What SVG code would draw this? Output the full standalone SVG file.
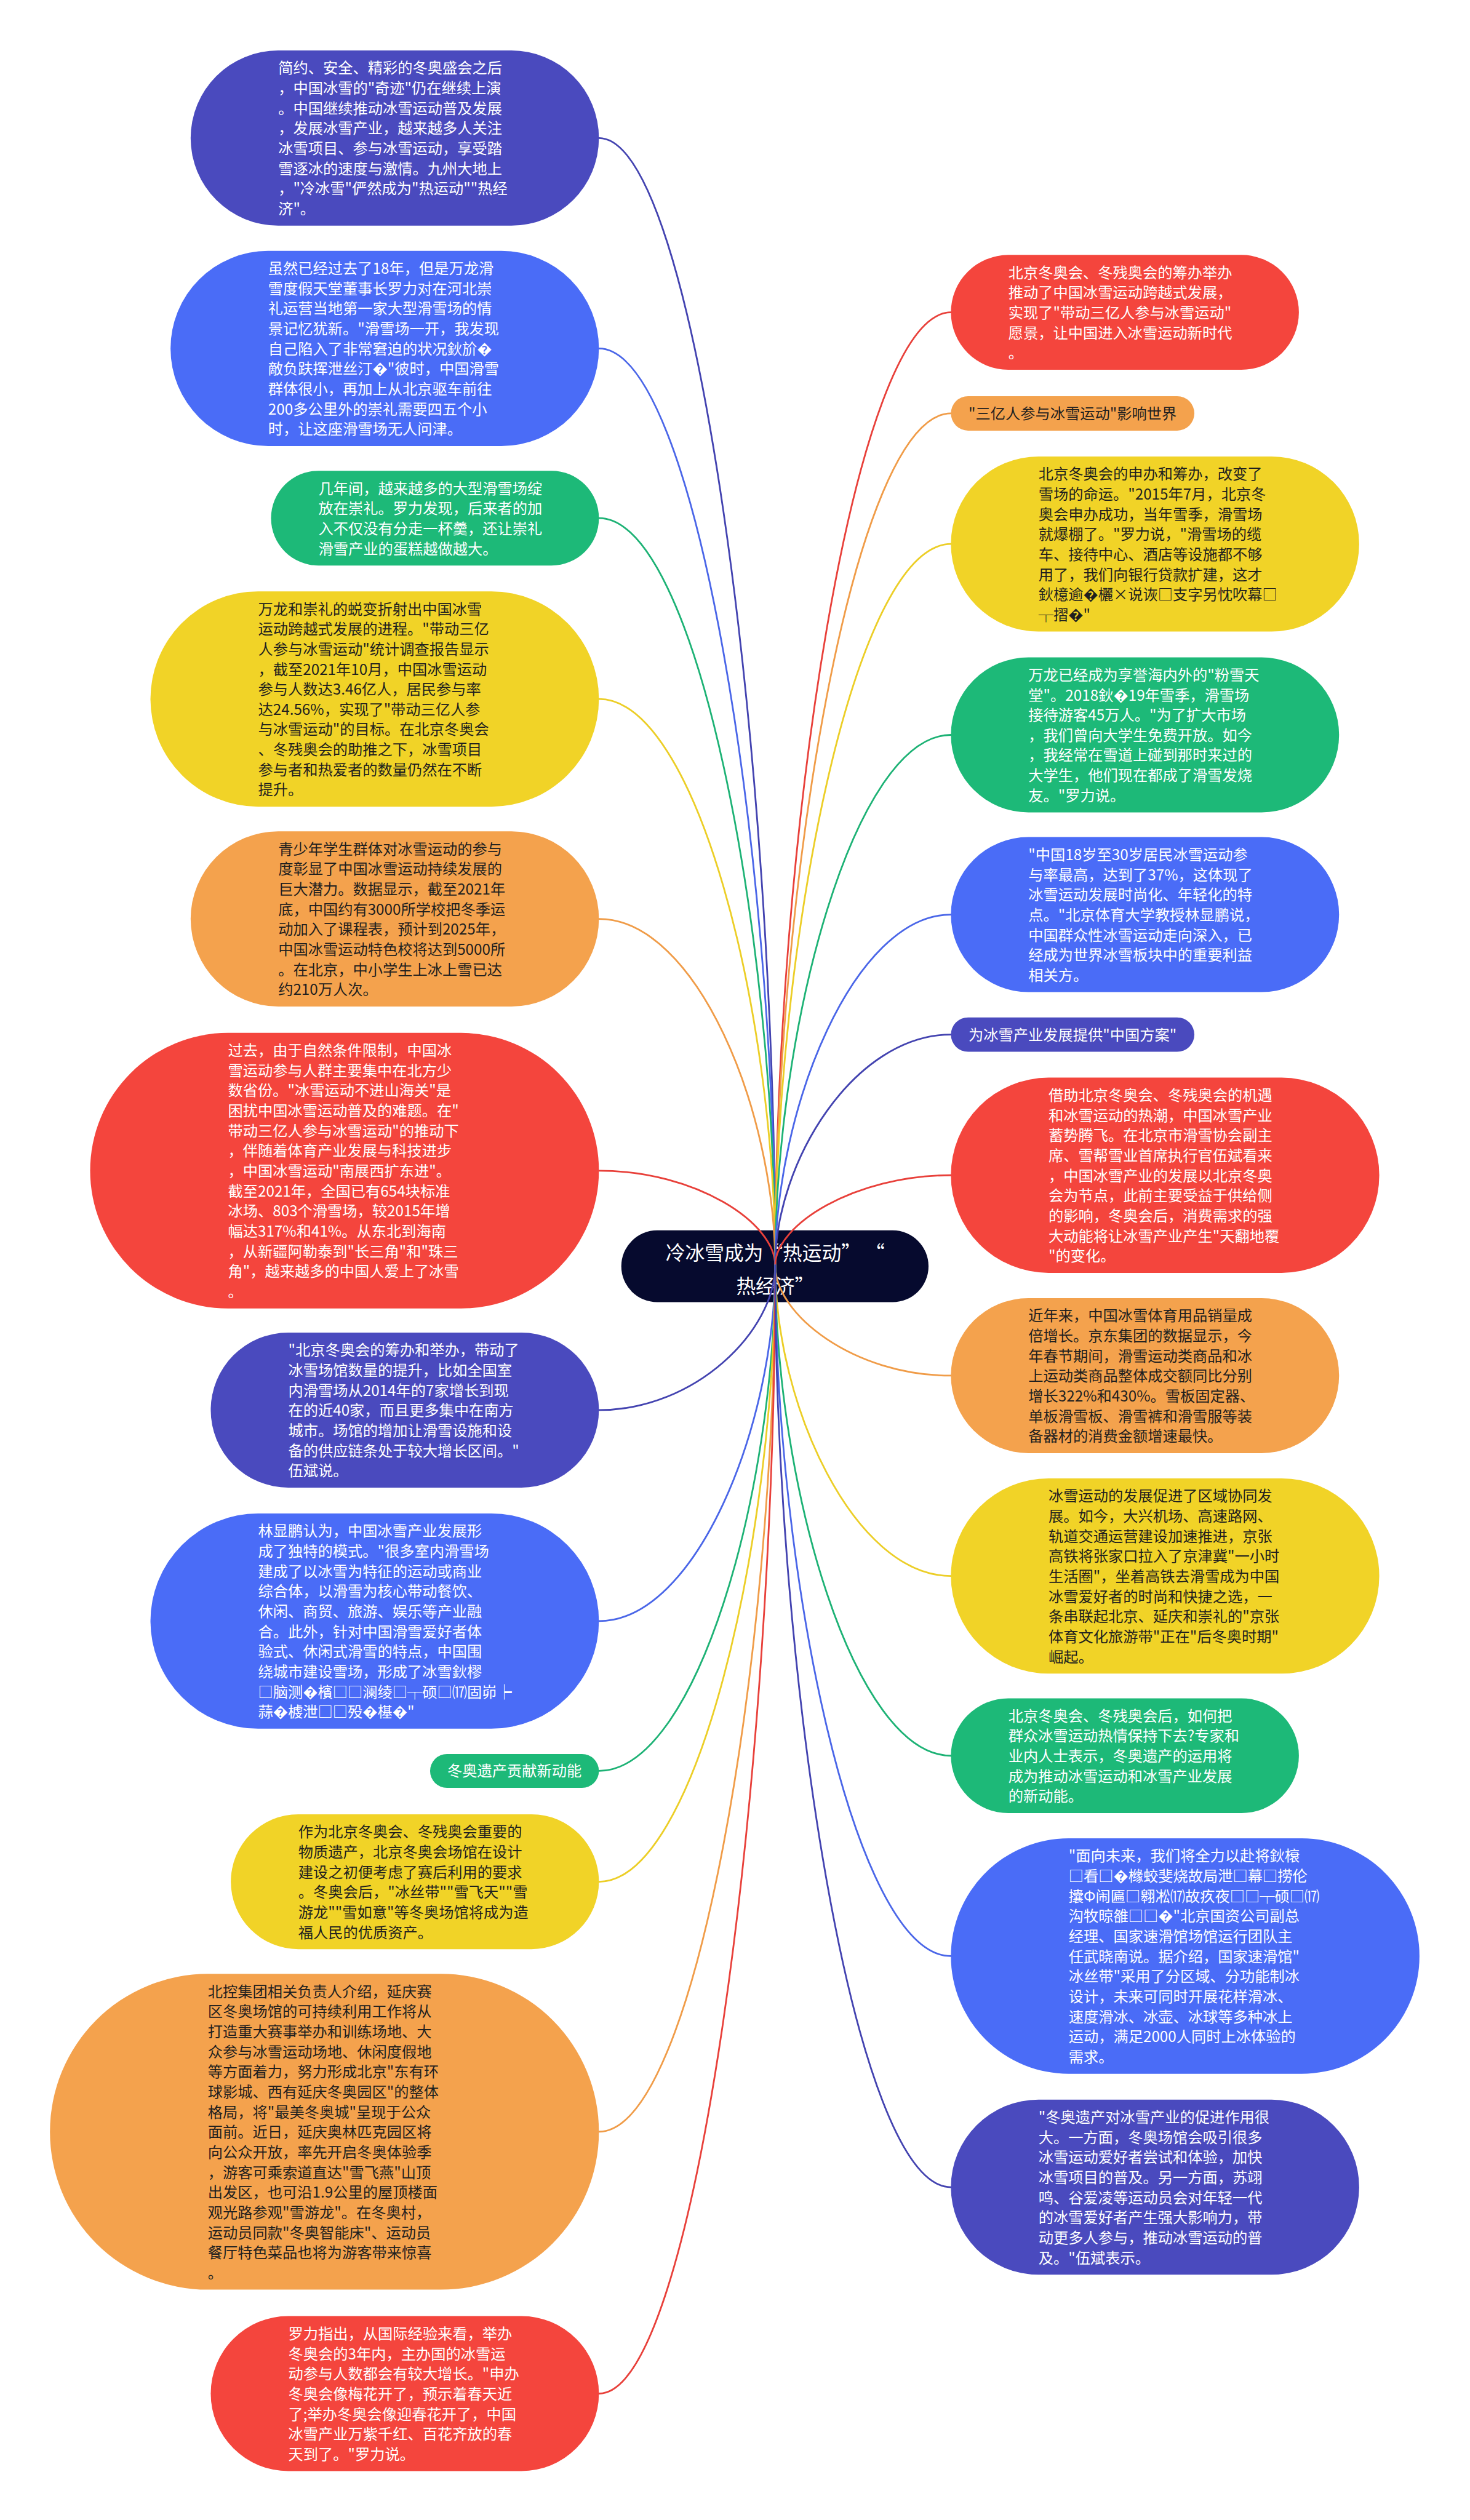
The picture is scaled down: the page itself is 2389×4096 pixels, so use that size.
<svg xmlns="http://www.w3.org/2000/svg" width="2389" height="4096" viewBox="0 0 2389 4096">
<style>
.t{font-family:"Noto Sans CJK SC","Noto Sans","DejaVu Sans",sans-serif;font-size:26px}
.w{fill:#ffffff}.d{fill:#1f1f1f}
.ctr{font-family:"Noto Sans CJK SC","Noto Sans","DejaVu Sans",sans-serif;font-size:34px;fill:#ffffff;text-anchor:middle}
.mid{text-anchor:middle}
.c{fill:none;stroke-width:3;stroke-linecap:round}
.indigo{fill:#4a4abe}.blue{fill:#4a6cf7}.green{fill:#1db978}.yellow{fill:#f1d327}.orange{fill:#f4a24d}.red{fill:#f4453d}
.si{stroke:#4343b0}.sb{stroke:#4a66e8}.sg{stroke:#1db275}.sy{stroke:#ecce27}.so{stroke:#f09c48}.sr{stroke:#e8403a}
</style>
<rect width="2389" height="4096" fill="#ffffff"/>
<g transform="scale(0.9332)">
<g id="n-center">
<rect x="1082" y="2143" width="535" height="125" rx="62.5" fill="#060a2e"/>
<text class="ctr"><tspan x="1350" y="2195">冷冰雪成为“热运动” “</tspan><tspan x="1350" y="2252">热经济”</tspan></text>
</g>
<g id="connectors">
<path class="c si" d="M1043 240.5C1212 240.5 1350 1320.4 1350 2204"/>
<path class="c sb" d="M1043 607C1212 607 1350 1485.4 1350 2204"/>
<path class="c sg" d="M1043 902.5C1212 902.5 1350 1618.3 1350 2204"/>
<path class="c sy" d="M1043 1217.5C1212 1217.5 1350 1760.1 1350 2204"/>
<path class="c so" d="M1043 1600.5C1212 1600.5 1350 1932.4 1350 2204"/>
<path class="c sr" d="M1043 2039C1212 2039 1350 2129.8 1350 2204"/>
<path class="c si" d="M1043 2456C1212 2456 1350 2317.4 1350 2204"/>
<path class="c sb" d="M1043 2823.5C1212 2823.5 1350 2482.8 1350 2204"/>
<path class="c sg" d="M1043 3084.5C1212 3084.5 1350 2600.2 1350 2204"/>
<path class="c sy" d="M1043 3277.5C1212 3277.5 1350 2687.1 1350 2204"/>
<path class="c so" d="M1043 3713C1212 3713 1350 2883 1350 2204"/>
<path class="c sr" d="M1043 4169C1212 4169 1350 3088.3 1350 2204"/>
<path class="c sr" d="M1656 544C1488 544 1350 1457 1350 2204"/>
<path class="c so" d="M1656 720C1488 720 1350 1536.2 1350 2204"/>
<path class="c sy" d="M1656 947.5C1488 947.5 1350 1638.6 1350 2204"/>
<path class="c sg" d="M1656 1280C1488 1280 1350 1788.2 1350 2204"/>
<path class="c sb" d="M1656 1593C1488 1593 1350 1929 1350 2204"/>
<path class="c si" d="M1656 1802C1488 1802 1350 2023.1 1350 2204"/>
<path class="c sr" d="M1656 2047C1488 2047 1350 2133.4 1350 2204"/>
<path class="c so" d="M1656 2396C1488 2396 1350 2290.4 1350 2204"/>
<path class="c sy" d="M1656 2745C1488 2745 1350 2447.4 1350 2204"/>
<path class="c sg" d="M1656 3058C1488 3058 1350 2588.3 1350 2204"/>
<path class="c sb" d="M1656 3407C1488 3407 1350 2745.4 1350 2204"/>
<path class="c si" d="M1656 3809.5C1488 3809.5 1350 2926.5 1350 2204"/>
</g>
<g id="n-l1">
<rect class="indigo" x="332" y="88" width="711" height="305" rx="152.5"/>
<text class="t w"><tspan x="484.5" y="128">简约、安全、精彩的冬奥盛会之后</tspan><tspan x="484.5" y="163">，中国冰雪的"奇迹"仍在继续上演</tspan><tspan x="484.5" y="198">。中国继续推动冰雪运动普及发展</tspan><tspan x="484.5" y="233">，发展冰雪产业，越来越多人关注</tspan><tspan x="484.5" y="268">冰雪项目、参与冰雪运动，享受踏</tspan><tspan x="484.5" y="303">雪逐冰的速度与激情。九州大地上</tspan><tspan x="484.5" y="338">，"冷冰雪"俨然成为"热运动""热经</tspan><tspan x="484.5" y="373">济"。</tspan></text>
</g>
<g id="n-l2">
<rect class="blue" x="297" y="437" width="746" height="340" rx="170"/>
<text class="t w"><tspan x="467" y="477">虽然已经过去了18年，但是万龙滑</tspan><tspan x="467" y="512">雪度假天堂董事长罗力对在河北崇</tspan><tspan x="467" y="547">礼运营当地第一家大型滑雪场的情</tspan><tspan x="467" y="582">景记忆犹新。"滑雪场一开，我发现</tspan><tspan x="467" y="617">自己陷入了非常窘迫的状况鈥斺�</tspan><tspan x="467" y="652">敵负趺挥泄丝汀�"彼时，中国滑雪</tspan><tspan x="467" y="687">群体很小，再加上从北京驱车前往</tspan><tspan x="467" y="722">200多公里外的崇礼需要四五个小</tspan><tspan x="467" y="757">时，让这座滑雪场无人问津。</tspan></text>
</g>
<g id="n-l3">
<rect class="green" x="472" y="820" width="571" height="165" rx="82.5"/>
<text class="t w"><tspan x="554.5" y="860">几年间，越来越多的大型滑雪场绽</tspan><tspan x="554.5" y="895">放在崇礼。罗力发现，后来者的加</tspan><tspan x="554.5" y="930">入不仅没有分走一杯羹，还让崇礼</tspan><tspan x="554.5" y="965">滑雪产业的蛋糕越做越大。</tspan></text>
</g>
<g id="n-l4">
<rect class="yellow" x="262" y="1030" width="781" height="375" rx="187.5"/>
<text class="t d"><tspan x="449.5" y="1070">万龙和崇礼的蜕变折射出中国冰雪</tspan><tspan x="449.5" y="1105">运动跨越式发展的进程。"带动三亿</tspan><tspan x="449.5" y="1140">人参与冰雪运动"统计调查报告显示</tspan><tspan x="449.5" y="1175">，截至2021年10月，中国冰雪运动</tspan><tspan x="449.5" y="1210">参与人数达3.46亿人，居民参与率</tspan><tspan x="449.5" y="1245">达24.56%，实现了"带动三亿人参</tspan><tspan x="449.5" y="1280">与冰雪运动"的目标。在北京冬奥会</tspan><tspan x="449.5" y="1315">、冬残奥会的助推之下，冰雪项目</tspan><tspan x="449.5" y="1350">参与者和热爱者的数量仍然在不断</tspan><tspan x="449.5" y="1385">提升。</tspan></text>
</g>
<g id="n-l5">
<rect class="orange" x="332" y="1448" width="711" height="305" rx="152.5"/>
<text class="t d"><tspan x="484.5" y="1488">青少年学生群体对冰雪运动的参与</tspan><tspan x="484.5" y="1523">度彰显了中国冰雪运动持续发展的</tspan><tspan x="484.5" y="1558">巨大潜力。数据显示，截至2021年</tspan><tspan x="484.5" y="1593">底，中国约有3000所学校把冬季运</tspan><tspan x="484.5" y="1628">动加入了课程表，预计到2025年，</tspan><tspan x="484.5" y="1663">中国冰雪运动特色校将达到5000所</tspan><tspan x="484.5" y="1698">。在北京，中小学生上冰上雪已达</tspan><tspan x="484.5" y="1733">约210万人次。</tspan></text>
</g>
<g id="n-l6">
<rect class="red" x="157" y="1799" width="886" height="480" rx="240"/>
<text class="t w"><tspan x="397" y="1839">过去，由于自然条件限制，中国冰</tspan><tspan x="397" y="1874">雪运动参与人群主要集中在北方少</tspan><tspan x="397" y="1909">数省份。"冰雪运动不进山海关"是</tspan><tspan x="397" y="1944">困扰中国冰雪运动普及的难题。在"</tspan><tspan x="397" y="1979">带动三亿人参与冰雪运动"的推动下</tspan><tspan x="397" y="2014">，伴随着体育产业发展与科技进步</tspan><tspan x="397" y="2049">，中国冰雪运动"南展西扩东进"。</tspan><tspan x="397" y="2084">截至2021年，全国已有654块标准</tspan><tspan x="397" y="2119">冰场、803个滑雪场，较2015年增</tspan><tspan x="397" y="2154">幅达317%和41%。从东北到海南</tspan><tspan x="397" y="2189">，从新疆阿勒泰到"长三角"和"珠三</tspan><tspan x="397" y="2224">角"，越来越多的中国人爱上了冰雪</tspan><tspan x="397" y="2259">。</tspan></text>
</g>
<g id="n-l7">
<rect class="indigo" x="367" y="2321" width="676" height="270" rx="135"/>
<text class="t w"><tspan x="502" y="2361">"北京冬奥会的筹办和举办，带动了</tspan><tspan x="502" y="2396">冰雪场馆数量的提升，比如全国室</tspan><tspan x="502" y="2431">内滑雪场从2014年的7家增长到现</tspan><tspan x="502" y="2466">在的近40家，而且更多集中在南方</tspan><tspan x="502" y="2501">城市。场馆的增加让滑雪设施和设</tspan><tspan x="502" y="2536">备的供应链条处于较大增长区间。"</tspan><tspan x="502" y="2571">伍斌说。</tspan></text>
</g>
<g id="n-l8">
<rect class="blue" x="262" y="2636" width="781" height="375" rx="187.5"/>
<text class="t w"><tspan x="449.5" y="2676">林显鹏认为，中国冰雪产业发展形</tspan><tspan x="449.5" y="2711">成了独特的模式。"很多室内滑雪场</tspan><tspan x="449.5" y="2746">建成了以冰雪为特征的运动或商业</tspan><tspan x="449.5" y="2781">综合体，以滑雪为核心带动餐饮、</tspan><tspan x="449.5" y="2816">休闲、商贸、旅游、娱乐等产业融</tspan><tspan x="449.5" y="2851">合。此外，针对中国滑雪爱好者体</tspan><tspan x="449.5" y="2886">验式、休闲式滑雪的特点，中国围</tspan><tspan x="449.5" y="2921">绕城市建设雪场，形成了冰雪鈥樛</tspan><tspan x="449.5" y="2956">□脑测�檳□□澜绫□┬硕□⒄固峁┝</tspan><tspan x="449.5" y="2991">蒜�榩泄□□殁�樭�"</tspan></text>
</g>
<g id="n-l9">
<rect class="green" x="749" y="3055" width="294" height="59" rx="29.5"/>
<text class="t w mid" x="896" y="3094">冬奥遗产贡献新动能</text>
</g>
<g id="n-l10">
<rect class="yellow" x="402" y="3160" width="641" height="235" rx="117.5"/>
<text class="t d"><tspan x="519.5" y="3200">作为北京冬奥会、冬残奥会重要的</tspan><tspan x="519.5" y="3235">物质遗产，北京冬奥会场馆在设计</tspan><tspan x="519.5" y="3270">建设之初便考虑了赛后利用的要求</tspan><tspan x="519.5" y="3305">。冬奥会后，"冰丝带""雪飞天""雪</tspan><tspan x="519.5" y="3340">游龙""雪如意"等冬奥场馆将成为造</tspan><tspan x="519.5" y="3375">福人民的优质资产。</tspan></text>
</g>
<g id="n-l11">
<rect class="orange" x="87" y="3438" width="956" height="550" rx="275"/>
<text class="t d"><tspan x="362" y="3478">北控集团相关负责人介绍，延庆赛</tspan><tspan x="362" y="3513">区冬奥场馆的可持续利用工作将从</tspan><tspan x="362" y="3548">打造重大赛事举办和训练场地、大</tspan><tspan x="362" y="3583">众参与冰雪运动场地、休闲度假地</tspan><tspan x="362" y="3618">等方面着力，努力形成北京"东有环</tspan><tspan x="362" y="3653">球影城、西有延庆冬奥园区"的整体</tspan><tspan x="362" y="3688">格局，将"最美冬奥城"呈现于公众</tspan><tspan x="362" y="3723">面前。近日，延庆奥林匹克园区将</tspan><tspan x="362" y="3758">向公众开放，率先开启冬奥体验季</tspan><tspan x="362" y="3793">，游客可乘索道直达"雪飞燕"山顶</tspan><tspan x="362" y="3828">出发区，也可沿1.9公里的屋顶楼面</tspan><tspan x="362" y="3863">观光路参观"雪游龙"。在冬奥村，</tspan><tspan x="362" y="3898">运动员同款"冬奥智能床"、运动员</tspan><tspan x="362" y="3933">餐厅特色菜品也将为游客带来惊喜</tspan><tspan x="362" y="3968">。</tspan></text>
</g>
<g id="n-l12">
<rect class="red" x="367" y="4034" width="676" height="270" rx="135"/>
<text class="t w"><tspan x="502" y="4074">罗力指出，从国际经验来看，举办</tspan><tspan x="502" y="4109">冬奥会的3年内，主办国的冰雪运</tspan><tspan x="502" y="4144">动参与人数都会有较大增长。"申办</tspan><tspan x="502" y="4179">冬奥会像梅花开了，预示着春天近</tspan><tspan x="502" y="4214">了;举办冬奥会像迎春花开了，中国</tspan><tspan x="502" y="4249">冰雪产业万紫千红、百花齐放的春</tspan><tspan x="502" y="4284">天到了。"罗力说。</tspan></text>
</g>
<g id="n-r1">
<rect class="red" x="1656" y="444" width="606" height="200" rx="100"/>
<text class="t w"><tspan x="1756" y="484">北京冬奥会、冬残奥会的筹办举办</tspan><tspan x="1756" y="519">推动了中国冰雪运动跨越式发展，</tspan><tspan x="1756" y="554">实现了"带动三亿人参与冰雪运动"</tspan><tspan x="1756" y="589">愿景，让中国进入冰雪运动新时代</tspan><tspan x="1756" y="624">。</tspan></text>
</g>
<g id="n-r2">
<rect class="orange" x="1656" y="690" width="424" height="60" rx="30"/>
<text class="t d mid" x="1868" y="730">"三亿人参与冰雪运动"影响世界</text>
</g>
<g id="n-r3">
<rect class="yellow" x="1656" y="795" width="711" height="305" rx="152.5"/>
<text class="t d"><tspan x="1808.5" y="835">北京冬奥会的申办和筹办，改变了</tspan><tspan x="1808.5" y="870">雪场的命运。"2015年7月，北京冬</tspan><tspan x="1808.5" y="905">奥会申办成功，当年雪季，滑雪场</tspan><tspan x="1808.5" y="940">就爆棚了。"罗力说，"滑雪场的缆</tspan><tspan x="1808.5" y="975">车、接待中心、酒店等设施都不够</tspan><tspan x="1808.5" y="1010">用了，我们向银行贷款扩建，这才</tspan><tspan x="1808.5" y="1045">鈥檍逾�欐×说诙□支字另忱吹幕□</tspan><tspan x="1808.5" y="1080">┬摺�"</tspan></text>
</g>
<g id="n-r4">
<rect class="green" x="1656" y="1145" width="676" height="270" rx="135"/>
<text class="t w"><tspan x="1791" y="1185">万龙已经成为享誉海内外的"粉雪天</tspan><tspan x="1791" y="1220">堂"。2018鈥�19年雪季，滑雪场</tspan><tspan x="1791" y="1255">接待游客45万人。"为了扩大市场</tspan><tspan x="1791" y="1290">，我们曾向大学生免费开放。如今</tspan><tspan x="1791" y="1325">，我经常在雪道上碰到那时来过的</tspan><tspan x="1791" y="1360">大学生，他们现在都成了滑雪发烧</tspan><tspan x="1791" y="1395">友。"罗力说。</tspan></text>
</g>
<g id="n-r5">
<rect class="blue" x="1656" y="1458" width="676" height="270" rx="135"/>
<text class="t w"><tspan x="1791" y="1498">"中国18岁至30岁居民冰雪运动参</tspan><tspan x="1791" y="1533">与率最高，达到了37%，这体现了</tspan><tspan x="1791" y="1568">冰雪运动发展时尚化、年轻化的特</tspan><tspan x="1791" y="1603">点。"北京体育大学教授林显鹏说，</tspan><tspan x="1791" y="1638">中国群众性冰雪运动走向深入，已</tspan><tspan x="1791" y="1673">经成为世界冰雪板块中的重要利益</tspan><tspan x="1791" y="1708">相关方。</tspan></text>
</g>
<g id="n-r6">
<rect class="indigo" x="1656" y="1772" width="424" height="60" rx="30"/>
<text class="t w mid" x="1868" y="1812">为冰雪产业发展提供"中国方案"</text>
</g>
<g id="n-r7">
<rect class="red" x="1656" y="1877" width="746" height="340" rx="170"/>
<text class="t w"><tspan x="1826" y="1917">借助北京冬奥会、冬残奥会的机遇</tspan><tspan x="1826" y="1952">和冰雪运动的热潮，中国冰雪产业</tspan><tspan x="1826" y="1987">蓄势腾飞。在北京市滑雪协会副主</tspan><tspan x="1826" y="2022">席、雪帮雪业首席执行官伍斌看来</tspan><tspan x="1826" y="2057">，中国冰雪产业的发展以北京冬奥</tspan><tspan x="1826" y="2092">会为节点，此前主要受益于供给侧</tspan><tspan x="1826" y="2127">的影响，冬奥会后，消费需求的强</tspan><tspan x="1826" y="2162">大动能将让冰雪产业产生"天翻地覆</tspan><tspan x="1826" y="2197">"的变化。</tspan></text>
</g>
<g id="n-r8">
<rect class="orange" x="1656" y="2261" width="676" height="270" rx="135"/>
<text class="t d"><tspan x="1791" y="2301">近年来，中国冰雪体育用品销量成</tspan><tspan x="1791" y="2336">倍增长。京东集团的数据显示，今</tspan><tspan x="1791" y="2371">年春节期间，滑雪运动类商品和冰</tspan><tspan x="1791" y="2406">上运动类商品整体成交额同比分别</tspan><tspan x="1791" y="2441">增长322%和430%。雪板固定器、</tspan><tspan x="1791" y="2476">单板滑雪板、滑雪裤和滑雪服等装</tspan><tspan x="1791" y="2511">备器材的消费金额增速最快。</tspan></text>
</g>
<g id="n-r9">
<rect class="yellow" x="1656" y="2575" width="746" height="340" rx="170"/>
<text class="t d"><tspan x="1826" y="2615">冰雪运动的发展促进了区域协同发</tspan><tspan x="1826" y="2650">展。如今，大兴机场、高速路网、</tspan><tspan x="1826" y="2685">轨道交通运营建设加速推进，京张</tspan><tspan x="1826" y="2720">高铁将张家口拉入了京津冀"一小时</tspan><tspan x="1826" y="2755">生活圈"，坐着高铁去滑雪成为中国</tspan><tspan x="1826" y="2790">冰雪爱好者的时尚和快捷之选，一</tspan><tspan x="1826" y="2825">条串联起北京、延庆和崇礼的"京张</tspan><tspan x="1826" y="2860">体育文化旅游带"正在"后冬奥时期"</tspan><tspan x="1826" y="2895">崛起。</tspan></text>
</g>
<g id="n-r10">
<rect class="green" x="1656" y="2958" width="606" height="200" rx="100"/>
<text class="t w"><tspan x="1756" y="2998">北京冬奥会、冬残奥会后，如何把</tspan><tspan x="1756" y="3033">群众冰雪运动热情保持下去?专家和</tspan><tspan x="1756" y="3068">业内人士表示，冬奥遗产的运用将</tspan><tspan x="1756" y="3103">成为推动冰雪运动和冰雪产业发展</tspan><tspan x="1756" y="3138">的新动能。</tspan></text>
</g>
<g id="n-r11">
<rect class="blue" x="1656" y="3202" width="816" height="410" rx="205"/>
<text class="t w"><tspan x="1861" y="3242">"面向未来，我们将全力以赴将鈥榱</tspan><tspan x="1861" y="3277">□看□�橼蛟斐烧故局泄□幕□捞伦</tspan><tspan x="1861" y="3312">攮Φ闹匾□翱凇⒄故疚夜□□┬硕□⒄</tspan><tspan x="1861" y="3347">沟牧晾雒□□�"北京国资公司副总</tspan><tspan x="1861" y="3382">经理、国家速滑馆场馆运行团队主</tspan><tspan x="1861" y="3417">任武晓南说。据介绍，国家速滑馆"</tspan><tspan x="1861" y="3452">冰丝带"采用了分区域、分功能制冰</tspan><tspan x="1861" y="3487">设计，未来可同时开展花样滑冰、</tspan><tspan x="1861" y="3522">速度滑冰、冰壶、冰球等多种冰上</tspan><tspan x="1861" y="3557">运动，满足2000人同时上冰体验的</tspan><tspan x="1861" y="3592">需求。</tspan></text>
</g>
<g id="n-r12">
<rect class="indigo" x="1656" y="3657" width="711" height="305" rx="152.5"/>
<text class="t w"><tspan x="1808.5" y="3697">"冬奥遗产对冰雪产业的促进作用很</tspan><tspan x="1808.5" y="3732">大。一方面，冬奥场馆会吸引很多</tspan><tspan x="1808.5" y="3767">冰雪运动爱好者尝试和体验，加快</tspan><tspan x="1808.5" y="3802">冰雪项目的普及。另一方面，苏翊</tspan><tspan x="1808.5" y="3837">鸣、谷爱凌等运动员会对年轻一代</tspan><tspan x="1808.5" y="3872">的冰雪爱好者产生强大影响力，带</tspan><tspan x="1808.5" y="3907">动更多人参与，推动冰雪运动的普</tspan><tspan x="1808.5" y="3942">及。"伍斌表示。</tspan></text>
</g>
</g>
</svg>
